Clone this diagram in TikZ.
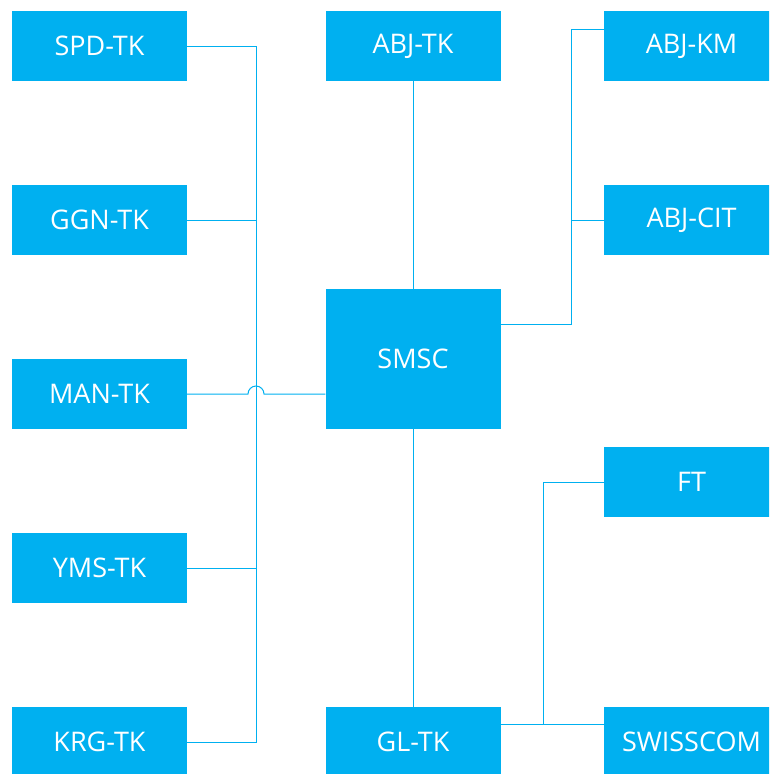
\documentclass[tikz,border=0pt]{standalone}
\usepackage{fontspec}
\setmainfont{Open Sans}
\definecolor{boxblue}{HTML}{00B0F0}
\tikzset{
  unit/.style={x=1pt,y=-1pt},
  box/.style={rectangle, fill=boxblue, text=white, inner sep=0pt,
    minimum width=175pt, minimum height=70pt, font=\fontsize{27}{32}\selectfont},
  bigbox/.style={box, minimum height=140pt},
  link/.style={draw=boxblue, line width=1pt}
}
\begin{document}
\begin{tikzpicture}[unit]
\useasboundingbox (0,0) rectangle (769,774);
\clip (0,0) rectangle (769,774);

% left column
\node[box] (spd) at (99.5,46) {SPD-TK};
\node[box] (ggn) at (99.5,220) {GGN-TK};
\node[box] (man) at (99.5,394) {MAN-TK};
\node[box] (yms) at (99.5,568) {YMS-TK};
\node[box] (krg) at (99.5,742) {KRG-TK};

% middle column
\node[box] (abjtk) at (413,46) {ABJ-TK};
\node[bigbox] (smsc) at (413,359) {SMSC};
\node[box] (gltk) at (413,742) {GL-TK};

% right column
\node[box] (abjkm) at (691.5,46) {ABJ-KM};
\node[box] (abjcit) at (691.5,220) {ABJ-CIT};
\node[box] (ft) at (691.5,482) {FT};
\node[box] (swiss) at (691.5,742) {SWISSCOM};

% bus points
\coordinate (lbusT) at (256,46);
\coordinate (lbusB) at (256,742);
\coordinate (rbusT) at (571,29);
\coordinate (gbus) at (543,482);

% left bus
\draw[link] (spd.east) -- (lbusT) -- (lbusB) -- (krg.east);
\draw[link] (ggn.east) -- (ggn.east -| lbusT);
\draw[link] (yms.east) -- (yms.east -| lbusT);
% MAN-TK hops over the bus
\draw[link] (man.east) -- (248,394) arc[start angle=180, end angle=0, radius=8pt] -- (man.east -| smsc.west);

% middle trunk
\draw[link] (abjtk.south) -- (smsc.north);
\draw[link] (smsc.south) -- (gltk.north);

% right upper bus
\draw[link] ([yshift=35pt]smsc.east) -| (rbusT) -- (rbusT -| abjkm.west);
\draw[link] (abjcit.west) -- (abjcit.west -| rbusT);

% right lower bus
\draw[link] ([yshift=18pt]gltk.east) -- ([yshift=18pt]gltk.east -| swiss.west);
\draw[link] (ft.west) -- (gbus) -- (gbus |- 0,724);
\end{tikzpicture}
\end{document}
